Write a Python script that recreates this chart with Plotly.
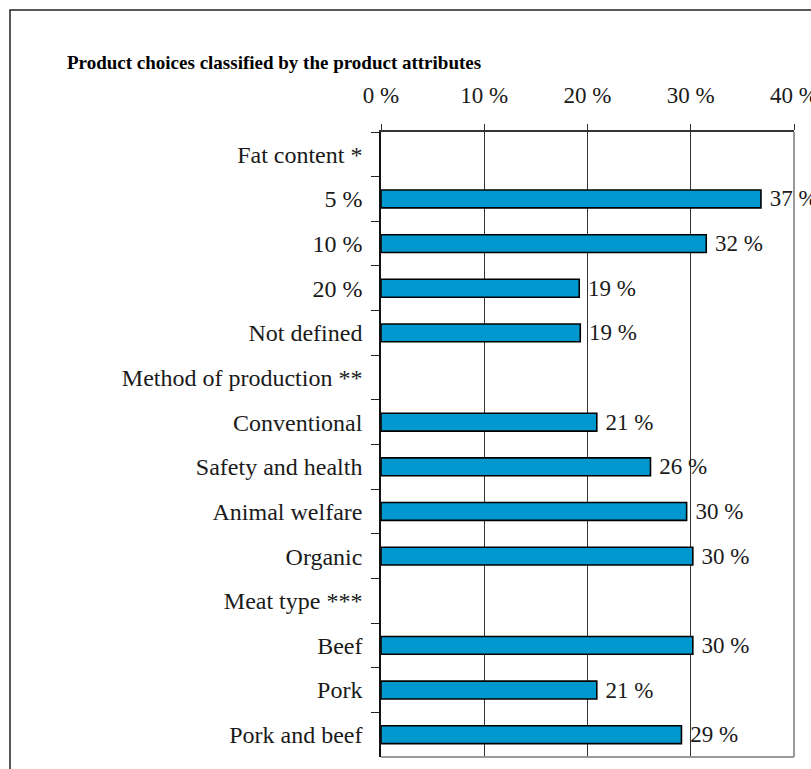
import plotly.graph_objects as go

# Rows from top to bottom; group headings carry no value
categories = [
    "Fat content *", "5 %", "10 %", "20 %", "Not defined",
    "Method of production **", "Conventional", "Safety and health",
    "Animal welfare", "Organic",
    "Meat type ***", "Beef", "Pork", "Pork and beef",
]
shares = [
    None, 36.8, 31.5, 19.2, 19.3,
    None, 20.9, 26.1, 29.6, 30.2,
    None, 30.2, 20.9, 29.1,
]
tick_values = [0, 10, 20, 30, 40]
tick_labels = ["0 %", "10 %", "20 %", "30 %", "40 %"]

FONT = "Liberation Serif, Times New Roman, serif"
TXT = "#1a1a1a"

# value labels, set a little away from the bar ends
labels = ["" if v is None else f"\u00a0{v:.0f} %" for v in shares]

fig = go.Figure(
    go.Bar(
        x=shares,
        y=categories,
        orientation="h",
        marker=dict(color="#0098CE", line=dict(color="#000000", width=1.6)),
        text=labels,
        textposition="outside",
        constraintext="none",
        textfont=dict(family=FONT, size=23, color=TXT),
        cliponaxis=False,
        hoverinfo="skip",
    )
)

fig.update_layout(
    width=811,
    height=769,
    margin=dict(l=381, r=17, t=132, b=12, autoexpand=False),
    paper_bgcolor="white",
    plot_bgcolor="white",
    showlegend=False,
    bargap=0.6,
    title=dict(
        text="<b>Product choices classified by the product attributes</b>",
        font=dict(family=FONT, size=19, color="#000000"),
        xref="container", yref="container",
        x=67 / 811, xanchor="left",
        y=1 - 62 / 769, yanchor="middle",
    ),
    font=dict(family=FONT, color=TXT),
)

fig.update_xaxes(
    side="top",
    range=[0, 40],
    tickvals=tick_values,
    ticktext=tick_labels,
    tickfont=dict(family=FONT, size=23, color=TXT),
    ticklabeloverflow="allow",
    automargin=False,
    ticks="outside",
    ticklen=6,
    tickcolor="#333333",
    ticklabelstandoff=12,
    showgrid=True,
    gridcolor="#333333",
    gridwidth=1,
    showline=True,
    linecolor="#333333",
    linewidth=1.5,
    zeroline=False,
    fixedrange=True,
)

fig.update_yaxes(
    type="category",
    categoryorder="array",
    categoryarray=categories,
    autorange="reversed",
    automargin=False,
    tickson="boundaries",
    ticks="outside",
    ticklen=8,
    tickcolor="#222222",
    tickfont=dict(family=FONT, size=24, color=TXT),
    ticklabelstandoff=12,
    showgrid=False,
    showline=True,
    linecolor="#111111",
    linewidth=1.5,
    fixedrange=True,
)

# Grey right and bottom edges of the plot area
fig.add_shape(type="line", xref="paper", yref="paper", x0=1, x1=1, y0=0, y1=1,
              line=dict(color="#9a9a9a", width=2))
fig.add_shape(type="line", xref="paper", yref="paper", x0=0, x1=1, y0=0, y1=0,
              line=dict(color="#9a9a9a", width=2))

# Outer frame of the chart
fig.add_shape(type="rect", xref="paper", yref="paper",
              x0=(10 - 381) / 413, x1=(830 - 381) / 413,
              y0=(757 - 790) / 625, y1=(757 - 10) / 625,
              line=dict(color="#222222", width=1.5), fillcolor="rgba(0,0,0,0)",
              layer="below")

fig.write_html("out.html")
